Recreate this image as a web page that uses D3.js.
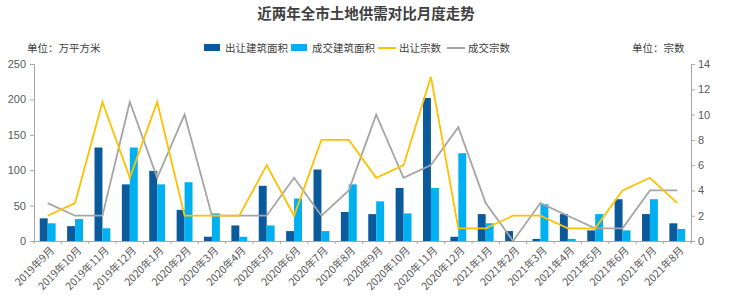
<!DOCTYPE html>
<html>
<head>
<meta charset="utf-8">
<script src="https://cdn.jsdelivr.net/npm/d3@7"></script>
<style>
  body { margin: 0; background: #fff; font-family: "Noto Sans CJK SC", "Noto Sans", sans-serif; }
  #chart { width: 740px; height: 303px; }
  .axis text { fill: #595959; font-size: 11px; font-family: "Liberation Sans", "Noto Sans CJK SC", sans-serif; }
  .x-axis text { font-family: "Noto Sans CJK SC", sans-serif; font-size: 10.5px; }
</style>
</head>
<body>
<div id="chart"></div>
<script>
// Data
const months = ['2019年9月', '2019年10月', '2019年11月', '2019年12月', '2020年1月', '2020年2月',
    '2020年3月', '2020年4月', '2020年5月', '2020年6月', '2020年7月', '2020年8月',
    '2020年9月', '2020年10月', '2020年11月', '2020年12月', '2021年1月', '2021年2月',
    '2021年3月', '2021年4月', '2021年5月', '2021年6月', '2021年7月', '2021年8月'];
const supplyArea = [32, 21, 132, 80, 99, 44, 6, 22, 78, 14, 101, 41, 38, 75, 202, 6, 38, 14, 3, 38, 15, 59, 38, 25];
const dealArea = [25, 31, 18, 132, 80, 83, 39, 6, 22, 60, 14, 80, 56, 39, 75, 124, 25, 0, 52, 3, 38, 15, 59, 17];
const supplyCount = [2, 3, 11, 5, 11, 2, 2, 2, 6, 2, 8, 8, 5, 6, 13, 1, 1, 2, 2, 1, 1, 4, 5, 3];
const dealCount = [3, 2, 2, 11, 5, 10, 2, 2, 2, 5, 2, 4, 10, 5, 6, 9, 3, 0, 3, 2, 1, 1, 4, 4];
const leftTicks = [0, 50, 100, 150, 200, 250];
const rightTicks = [0, 2, 4, 6, 8, 10, 12, 14];

const colors = { supplyArea: '#0a5a9c', dealArea: '#00b0f0', supplyCount: '#ffc000', dealCount: '#a5a5a5' };

const margin = { top: 64, right: 49, bottom: 62, left: 34 };
const width = 740 - margin.left - margin.right;
const height = 303 - margin.top - margin.bottom;

const root = d3.select('#chart').append('svg')
    .attr('width', 740)
    .attr('height', 303);

// Title
root.append('text')
    .attr('x', 366)
    .attr('y', 19)
    .attr('text-anchor', 'middle')
    .style('font-size', '14.5px')
    .style('font-weight', 'bold')
    .attr('fill', '#404040')
    .text('近两年全市土地供需对比月度走势');

// Unit labels
root.append('text').attr('x', 27).attr('y', 52)
    .style('font-size', '10.5px').attr('fill', '#404040').text('单位：万平方米');
root.append('text').attr('x', 632).attr('y', 52)
    .style('font-size', '10.5px').attr('fill', '#404040').text('单位：宗数');

// Legend
const legendItems = [
    { label: '出让建筑面积', color: colors.supplyArea, type: 'rect', x: 204 },
    { label: '成交建筑面积', color: colors.dealArea, type: 'rect', x: 291 },
    { label: '出让宗数', color: colors.supplyCount, type: 'line', x: 378 },
    { label: '成交宗数', color: colors.dealCount, type: 'line', x: 447 }
];
const legend = root.append('g').attr('transform', 'translate(0,48)');
legendItems.forEach(item => {
    if (item.type === 'rect') {
        legend.append('rect').attr('x', item.x).attr('y', -4).attr('width', 16).attr('height', 7).attr('fill', item.color);
    } else {
        legend.append('line').attr('x1', item.x).attr('x2', item.x + 18).attr('y1', 0).attr('y2', 0)
            .attr('stroke', item.color).attr('stroke-width', 2);
    }
    legend.append('text').attr('x', item.x + 21).attr('y', 4)
        .style('font-size', '10.5px').attr('fill', '#404040').text(item.label);
});

const svg = root.append('g').attr('transform', `translate(${margin.left},${margin.top})`);

// Scales
const xScale = d3.scaleBand().domain(months).range([0, width]).paddingInner(0.42).paddingOuter(0.21);
const xOuter = d3.scaleBand().domain(months).range([0, width]);
const yLeft = d3.scaleLinear().domain([0, 250]).range([height, 0]);
const yRight = d3.scaleLinear().domain([0, 14]).range([height, 0]);
const xCenter = d => xOuter(d) + xOuter.bandwidth() / 2;

// Bars
const barW = xScale.bandwidth() / 2;
const barData = months.map((m, i) => ({ m, a: supplyArea[i], b: dealArea[i] }));
const groups = svg.selectAll('.bar-group').data(barData).enter().append('g')
    .attr('transform', d => `translate(${xScale(d.m)},0)`);
groups.append('rect')
    .attr('x', 0).attr('width', barW)
    .attr('y', d => yLeft(d.a)).attr('height', d => height - yLeft(d.a))
    .attr('fill', colors.supplyArea);
groups.append('rect')
    .attr('x', barW).attr('width', barW)
    .attr('y', d => yLeft(d.b)).attr('height', d => height - yLeft(d.b))
    .attr('fill', colors.dealArea);

// Lines
const line = d3.line().x(d => xCenter(d.m)).y(d => yRight(d.v));
svg.append('path')
    .datum(months.map((m, i) => ({ m, v: dealCount[i] })))
    .attr('d', line).attr('fill', 'none')
    .attr('stroke', colors.dealCount).attr('stroke-width', 1.8);
svg.append('path')
    .datum(months.map((m, i) => ({ m, v: supplyCount[i] })))
    .attr('d', line).attr('fill', 'none')
    .attr('stroke', colors.supplyCount).attr('stroke-width', 1.8);

// Axes
const leftAxis = svg.append('g').attr('class', 'axis')
    .call(d3.axisLeft(yLeft).tickValues(leftTicks).tickSize(4).tickPadding(4));
const rightAxis = svg.append('g').attr('class', 'axis')
    .attr('transform', `translate(${width},0)`)
    .call(d3.axisRight(yRight).tickValues(rightTicks).tickSize(4).tickPadding(3));

const xAxis = svg.append('g').attr('class', 'axis x-axis')
    .attr('transform', `translate(0,${height})`)
    .call(d3.axisBottom(xOuter).tickSize(0).tickPadding(7));
xAxis.selectAll('text')
    .attr('transform', 'rotate(-45)')
    .attr('dx', '-0.2em')
    .attr('dy', '0.5em')
    .style('text-anchor', 'end');
// tick marks between categories
xAxis.selectAll('.sep').data(months.concat(['end'])).enter().append('line')
    .attr('x1', (d, i) => i * xOuter.step()).attr('x2', (d, i) => i * xOuter.step())
    .attr('y1', 0).attr('y2', 3).attr('stroke', '#a6a6a6');

[leftAxis, rightAxis, xAxis].forEach(a => {
    a.selectAll('.domain').attr('stroke', '#a6a6a6');
    a.selectAll('.tick line').attr('stroke', '#a6a6a6');
});
</script>
</body>
</html>
